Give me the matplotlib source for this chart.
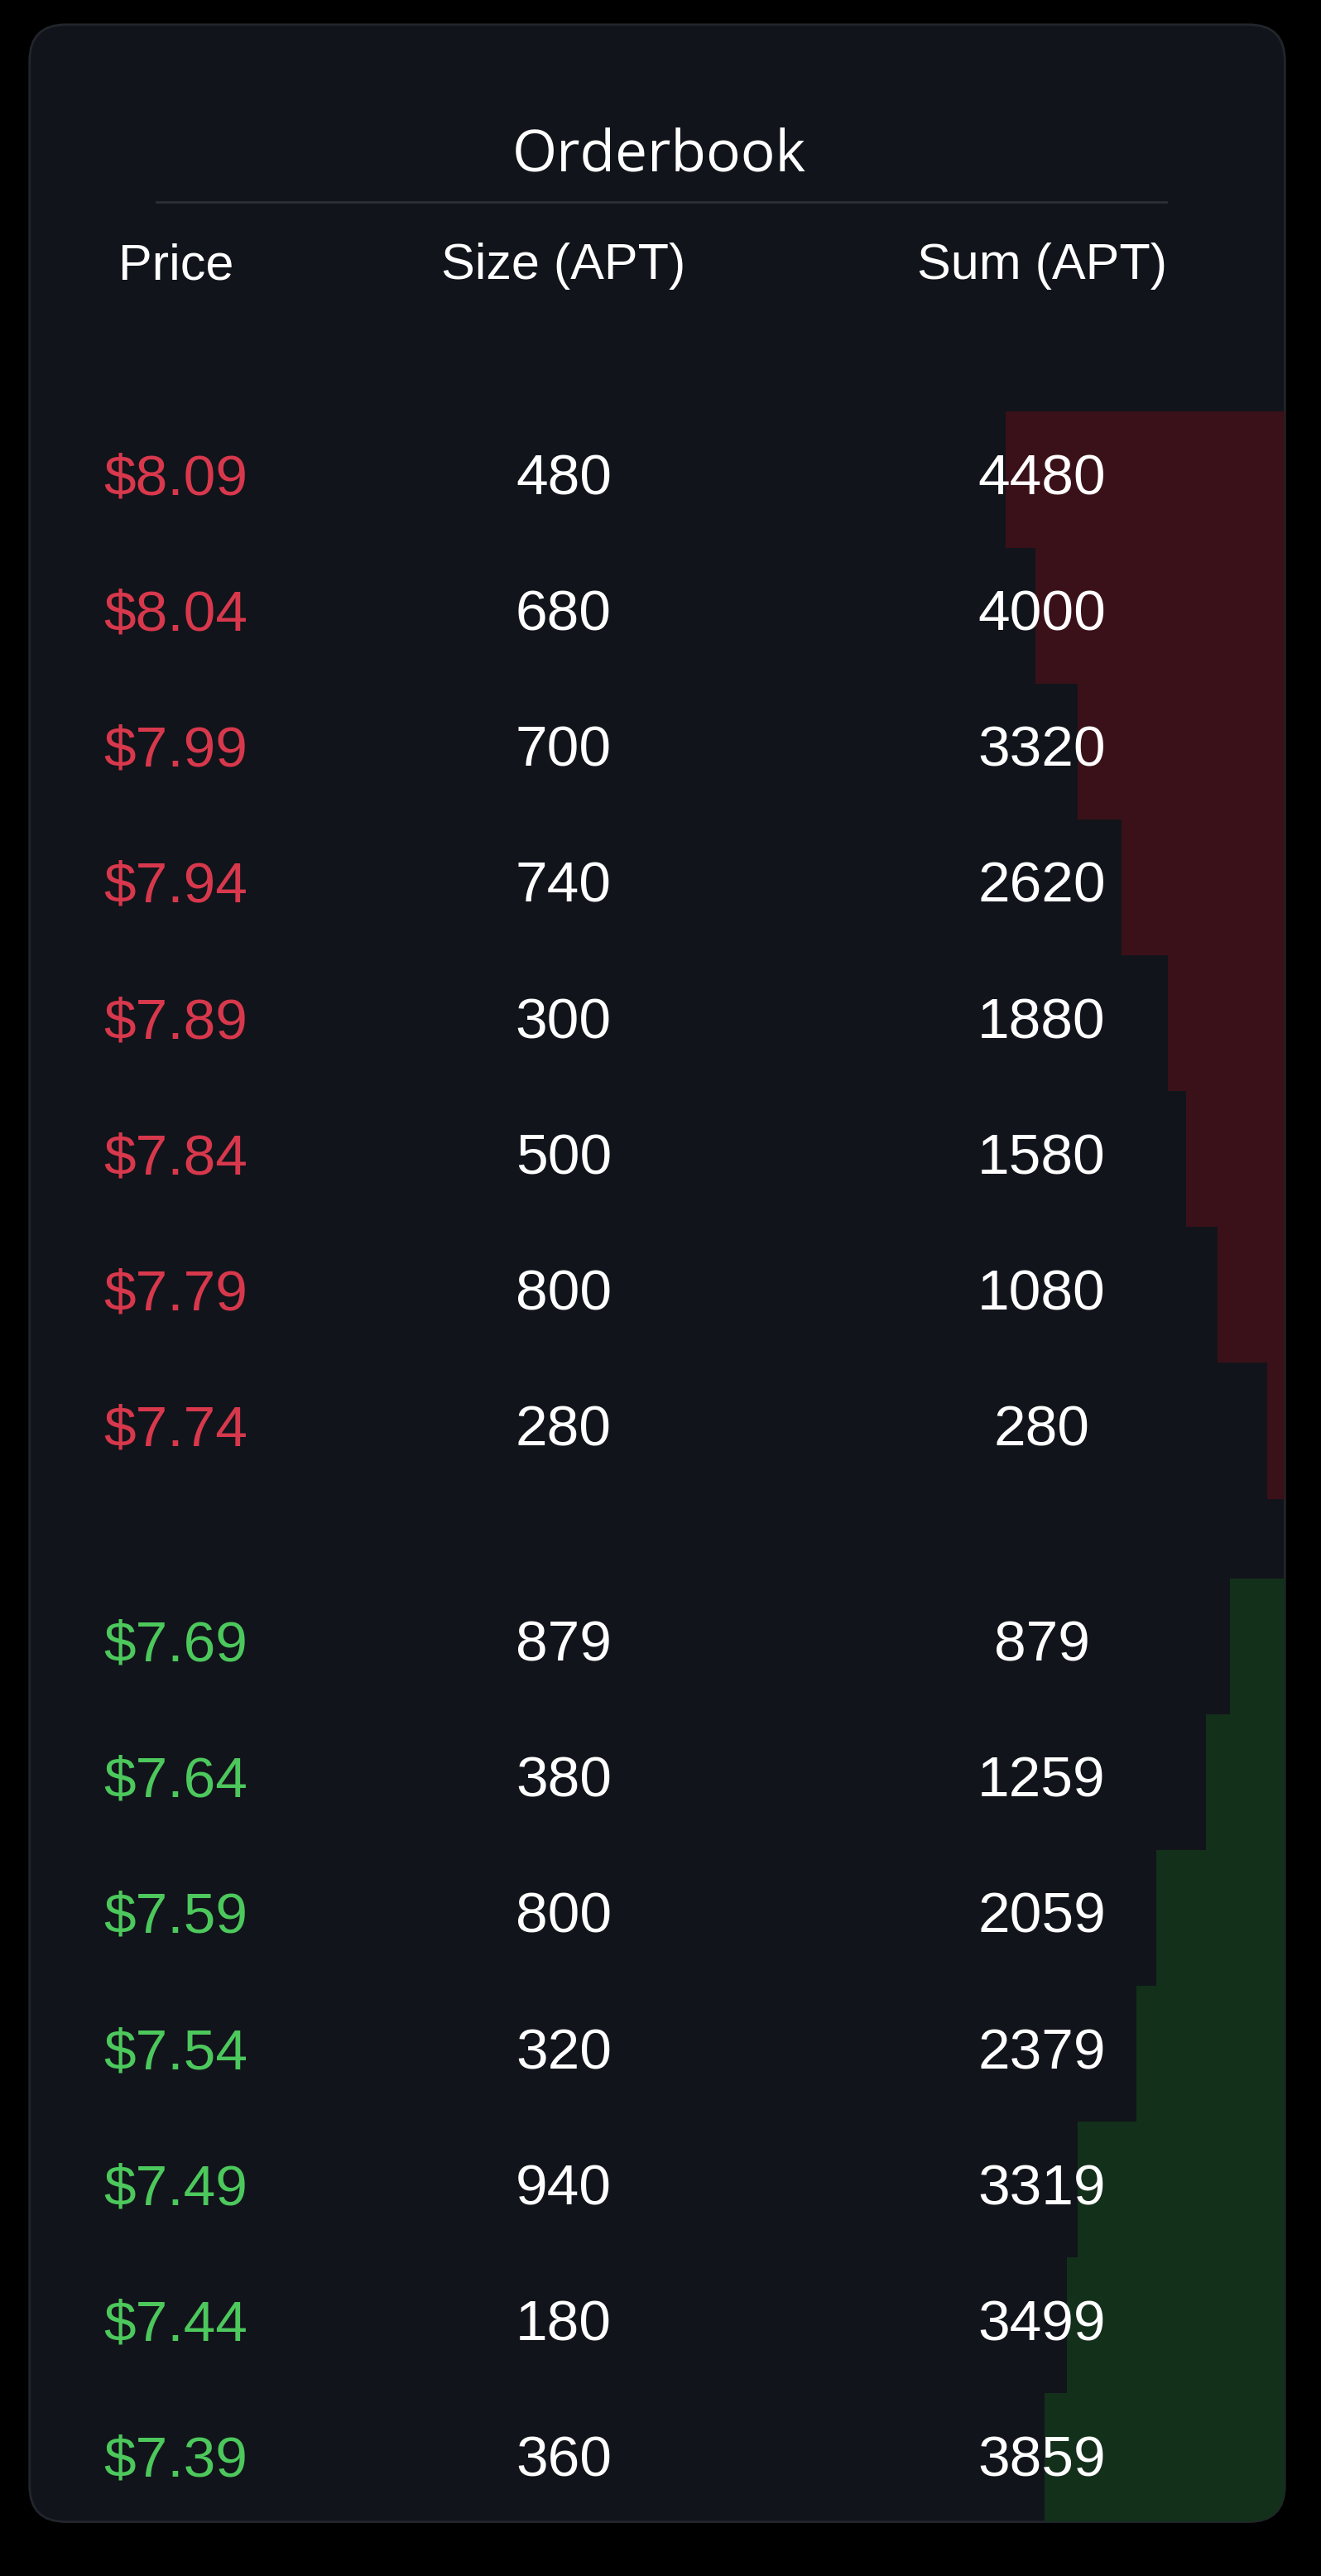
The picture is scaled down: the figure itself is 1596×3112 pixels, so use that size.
import matplotlib
matplotlib.use("Agg")
import matplotlib.pyplot as plt
from matplotlib.patches import FancyBboxPatch

ask_prices = ["$8.09", "$8.04", "$7.99", "$7.94", "$7.89", "$7.84", "$7.79", "$7.74"]
ask_sizes = [480, 680, 700, 740, 300, 500, 800, 280]
ask_sums = [4480, 4000, 3320, 2620, 1880, 1580, 1080, 280]
bid_prices = ["$7.69", "$7.64", "$7.59", "$7.54", "$7.49", "$7.44", "$7.39"]
bid_sizes = [879, 380, 800, 320, 940, 180, 360]
bid_sums = [879, 1259, 2059, 2379, 3319, 3499, 3859]
headers = ["Price", "Size (APT)", "Sum (APT)"]

W, H = 804, 1568
fig = plt.figure(figsize=(15.96, 31.12), dpi=100, facecolor="black")
ax = fig.add_axes([0, 0, 1, 1])
ax.set_xlim(0, W); ax.set_ylim(H, 0); ax.axis("off")

card = FancyBboxPatch((18, 15), 764, 1520, boxstyle="round,pad=0,rounding_size=22",
                      fc="#12141b", ec="#23252c", lw=2, zorder=0)
ax.add_patch(card)

step = 82.7
ask_y = [292 + i * step for i in range(len(ask_prices))]
bid_y = [1002 + i * step for i in range(len(bid_prices))]

# depth bars on twin axes: 0 at x=782, 4480 at x=612
ax2 = fig.add_axes([0, 0, 1, 1], sharey=ax)
ax2.axis("off")
scale = 170 / 4480
ax2.set_xlim(782 / scale, -(W - 782) / scale)
b1 = ax2.barh(ask_y, ask_sums, height=step, left=0, color="#3b1119", zorder=1)
b2 = ax2.barh(bid_y, bid_sums, height=step, left=0, color="#13301b", zorder=1)
card2 = FancyBboxPatch((18, 15), 764, 1520, boxstyle="round,pad=0,rounding_size=22",
                       fc="none", ec="none", transform=ax.transData)
for b in list(b1) + list(b2):
    b.set_clip_path(card2)

txt = dict(ha="center", va="center", family=["Liberation Sans", "DejaVu Sans"])
ax2.text(401 / W, 1 - 95 / H, "Orderbook", transform=fig.transFigure, color="white",
         fontsize=50, ha="center", va="center", family=["Open Sans", "DejaVu Sans"])
ax2.plot([95 / W, 710 / W], [1 - 123 / H] * 2, transform=fig.transFigure, color="#2c2f37", lw=2)
for x, h in zip([107, 343, 634], headers):
    ax2.text(x / W, 1 - 162 / H, h, transform=fig.transFigure, color="white", fontsize=44, **txt)

def row(y, p, s, sm, pc):
    yy = 1 - y / H
    ax2.text(107 / W, yy, p, transform=fig.transFigure, color=pc, fontsize=50, **txt)
    ax2.text(343 / W, yy, str(s), transform=fig.transFigure, color="white", fontsize=50, **txt)
    ax2.text(634 / W, yy, str(sm), transform=fig.transFigure, color="white", fontsize=50, **txt)

for y, p, s, sm in zip(ask_y, ask_prices, ask_sizes, ask_sums):
    row(y, p, s, sm, "#d8384c")
for y, p, s, sm in zip(bid_y, bid_prices, bid_sizes, bid_sums):
    row(y, p, s, sm, "#4cc85c")

fig.savefig("out.png", dpi=100, facecolor="black")
